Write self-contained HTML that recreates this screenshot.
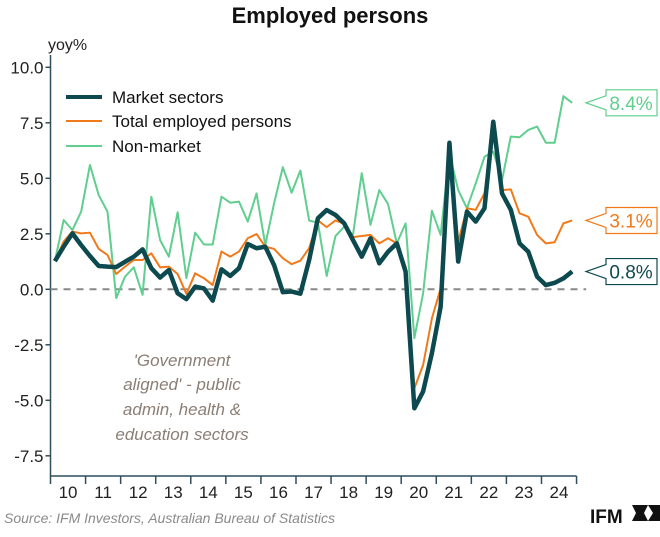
<!DOCTYPE html>
<html><head><meta charset="utf-8"><style>
body{margin:0;background:#fff;width:660px;height:532px;overflow:hidden;font-family:"Liberation Sans",sans-serif}
svg text{font-family:"Liberation Sans",sans-serif}
</style></head><body>
<svg id="chart" width="660" height="532" xmlns="http://www.w3.org/2000/svg">
<text x="330" y="23" text-anchor="middle" font-size="22" font-weight="bold" fill="#111">Employed persons</text>
<text x="48" y="50" font-size="16" fill="#222">yoy%</text>
<g id="axes"></g>
<g id="series"></g>
<g>
<line x1="66" y1="97" x2="102" y2="97" stroke="#0d4a4f" stroke-width="4"/>
<text x="112" y="103" font-size="17" fill="#111">Market sectors</text>
<line x1="66" y1="121" x2="102" y2="121" stroke="#f07a1a" stroke-width="2"/>
<text x="112" y="127" font-size="17" fill="#111">Total employed persons</text>
<line x1="66" y1="146" x2="102" y2="146" stroke="#5fce8e" stroke-width="2"/>
<text x="112" y="152" font-size="17" fill="#111">Non-market</text>
</g>
<g font-size="17" font-style="italic" fill="#8b7e74" text-anchor="middle">
<text x="182" y="366">'Government</text>
<text x="182" y="390">aligned' - public</text>
<text x="182" y="415">admin, health &amp;</text>
<text x="182" y="440">education sectors</text>
</g>
<text x="4" y="523" font-size="14" font-style="italic" fill="#8a8a8a">Source: IFM Investors, Australian Bureau of Statistics</text>
<text x="590" y="523" font-size="19" font-weight="bold" fill="#111">IFM</text>
<g fill="#111">
<polygon points="632,505 648,505 644,513 648,521 632,521 636,513"/>
<polygon points="648,505 660,505 660,521 648,521 653,513"/>
</g>
</svg>
<script>
const years=["10","11","12","13","14","15","16","17","18","19","20","21","22","23","24"];
const yTicks=[10,7.5,5,2.5,0,-2.5,-5,-7.5];
const yTickLabels=["10.0","7.5","5.0","2.5","0.0","-2.5","-5.0","-7.5"];
const marketSectors=[1.27,1.92,2.52,1.99,1.5,1.05,1.02,1.0,1.24,1.47,1.8,0.95,0.53,0.87,-0.18,-0.44,0.12,0.04,-0.51,0.9,0.6,0.95,2.04,1.85,1.92,1.09,-0.13,-0.1,-0.2,1.32,3.2,3.57,3.35,2.97,2.22,1.47,2.3,1.17,1.69,2.07,0.8,-5.36,-4.6,-2.88,-0.78,6.6,1.25,3.5,3.05,3.65,7.55,4.32,3.58,2.07,1.69,0.57,0.19,0.29,0.49,0.8];
const totalEmployed=[1.27,2.15,2.6,2.52,2.55,1.82,1.55,0.69,1.02,1.32,1.32,1.62,0.99,1.02,0.69,-0.21,0.72,0.5,0.19,1.7,1.47,1.7,2.3,2.49,1.92,1.82,1.4,1.13,1.29,1.85,3.1,2.8,3.1,2.95,2.35,2.4,2.45,2.07,2.3,2.07,1.02,-4.46,-3.41,-1.31,0.04,6.42,2.14,3.65,3.58,4.32,7.18,4.47,4.5,3.42,3.27,2.45,2.07,2.12,2.97,3.1];
const nonMarket=[1.27,3.12,2.67,3.5,5.6,4.24,3.5,-0.4,0.57,0.99,-0.25,4.17,2.22,1.47,3.47,0.5,2.55,2.02,2.02,4.17,3.9,3.95,3.05,4.32,2.0,3.87,5.5,4.35,5.35,3.1,3.0,0.6,2.4,2.82,2.45,5.23,2.9,4.47,3.84,2.07,2.97,-2.2,-0.18,3.54,2.45,6.12,4.47,3.65,4.77,5.97,6.2,4.92,6.88,6.85,7.18,7.33,6.6,6.6,8.7,8.4];

const NS="http://www.w3.org/2000/svg";
const x0=50.5, yearW=35.07, axisBottom=476;
const X=i=>x0+(i+0.5)*yearW/4;
const Y=v=>289.3-22.2*v;
function mk(tag,attrs,parent){const e=document.createElementNS(NS,tag);for(const k in attrs)e.setAttribute(k,attrs[k]);parent.appendChild(e);return e;}
const axes=document.getElementById('axes'), series=document.getElementById('series'), svg=document.getElementById('chart');

const yAxis=mk('line',{x1:x0,y1:55,x2:x0,y2:axisBottom,stroke:'#2f4f5f','stroke-width':1.5},axes);


const xAxis=mk('line',{x1:x0,y1:axisBottom,x2:x0+yearW*15,y2:axisBottom,stroke:'#2f4f5f','stroke-width':1.5},axes);


yTicks.forEach((v,k)=>{
  mk('line',{x1:x0-5,y1:Y(v),x2:x0,y2:Y(v),stroke:'#2f4f5f','stroke-width':1.5},axes);
  const t=mk('text',{x:x0-7,y:Y(v)+6,'text-anchor':'end','font-size':17,fill:'#222'},axes);
  t.textContent=yTickLabels[k];
  
  
});
for(let k=0;k<=years.length;k++){
  mk('line',{x1:x0+k*yearW,y1:axisBottom,x2:x0+k*yearW,y2:axisBottom+8,stroke:'#2f4f5f','stroke-width':1.5},axes);
}
years.forEach((yr,k)=>{
  const t=mk('text',{x:x0+(k+0.5)*yearW,y:axisBottom+22,'text-anchor':'middle','font-size':17,fill:'#222'},axes);
  t.textContent=yr;
  
  
});
const zl=mk('line',{x1:x0,y1:Y(0),x2:X(59)+14,y2:Y(0),stroke:'#888','stroke-width':2,'stroke-dasharray':'7,6'},axes);



function line(data,color,w,name){
  const p=mk('polyline',{points:data.map((v,i)=>X(i)+','+Y(v)).join(' '),fill:'none',stroke:color,'stroke-width':w,'stroke-linejoin':'round'},series);
  
  
}
line(nonMarket,'#5fce8e',2,'non-market-line');
line(totalEmployed,'#f07a1a',2,'total-employed-line');
line(marketSectors,'#0d4a4f',4.5,'market-sectors-line');

function callout(data,color,name){
  const v=data[data.length-1], cy=Y(v), bx=606, ax=586;
  const g=mk('g',{},svg);
  
  
  mk('path',{d:`M${ax},${cy} L${bx},${cy-7} L${bx},${cy-13} L657,${cy-13} L657,${cy+13} L${bx},${cy+13} L${bx},${cy+7} Z`,fill:'#fff',stroke:color,'stroke-width':1.2},g);
  const t=mk('text',{x:631,y:cy+7,'text-anchor':'middle','font-size':19,fill:color},g);
  t.textContent=v.toFixed(1)+'%';
}
callout(nonMarket,'#5fce8e','non-market-end-label');
callout(totalEmployed,'#f07a1a','total-employed-end-label');
callout(marketSectors,'#0d4a4f','market-sectors-end-label');
</script>
</body></html>
